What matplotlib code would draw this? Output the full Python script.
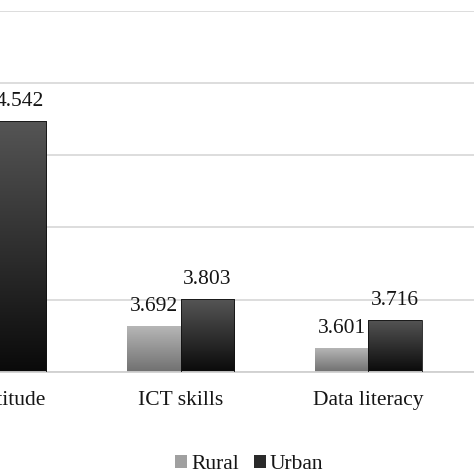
import numpy as np
import matplotlib
matplotlib.use("Agg")
import matplotlib.pyplot as plt
from matplotlib.patches import Patch

# --- data ---
categories = ["ICT attitude", "ICT skills", "Data literacy"]
rural = [4.40, 3.692, 3.601]   # first rural bar is cropped out of the picture (estimate)
urban = [4.542, 3.803, 3.716]
series_names = ["Rural", "Urban"]

plt.rcParams["font.family"] = ["Liberation Serif", "DejaVu Serif"]
FS = 15.5
TXT = "#151515"

fig = plt.figure(figsize=(4.74, 4.74), dpi=100)
# plot area is cropped on the left side in the reference
ax = fig.add_axes([-0.2128, 0.2152, 1.2276, 0.7622])

x = np.arange(len(categories))
w = 0.285

def gradient_bars(bars, top_col, bot_col):
    grad = np.linspace(0, 1, 256).reshape(-1, 1)
    c_top = np.array(matplotlib.colors.to_rgb(top_col))
    c_bot = np.array(matplotlib.colors.to_rgb(bot_col))
    img = c_top[None, None, :] * (1 - grad[:, :, None]) + c_bot[None, None, :] * grad[:, :, None]
    for b in bars:
        x0, y0 = b.get_x(), b.get_y()
        x1, y1 = x0 + b.get_width(), y0 + b.get_height()
        im = ax.imshow(img, extent=[x0, x1, y0, y1], aspect="auto", zorder=2,
                       interpolation="bilinear", origin="upper")
        im.set_clip_path(b)
        b.set_facecolor("none")

bars_r = ax.bar(x - w / 2, np.array(rural) - 3.5, w, bottom=3.5, color="#999999",
                edgecolor="none", zorder=2)
bars_u = ax.bar(x + w / 2, np.array(urban) - 3.5, w, bottom=3.5, color="#333333",
                edgecolor="#111111", linewidth=0.6, zorder=3)

gradient_bars(bars_r, "#b8b8b8", "#707070")
gradient_bars(bars_u, "#555555", "#0a0a0a")

for xi, v in zip(x - w / 2, rural):
    ax.annotate(f"{v:.3f}", (xi, v), xytext=(0, 14), textcoords="offset points",
                ha="center", va="center", fontsize=FS, color=TXT)
for xi, v in zip(x + w / 2, urban):
    ax.annotate(f"{v:.3f}", (xi, v), xytext=(0, 14), textcoords="offset points",
                ha="center", va="center", fontsize=FS, color=TXT)

ax.set_ylim(3.5, 5.0)
ax.set_xlim(-0.5, 2.6)
ax.set_yticks(np.arange(3.5, 5.01, 0.3))
ax.yaxis.grid(True, color="#dadada", linewidth=1.3)
ax.set_axisbelow(True)
ax.tick_params(axis="y", left=False, labelleft=False)
ax.tick_params(axis="x", bottom=False, pad=10)
ax.set_xticks(x)
ax.set_xticklabels(categories, fontsize=FS, color=TXT)
for s in ["top", "right", "left"]:
    ax.spines[s].set_visible(False)
ax.spines["bottom"].set_color("#d0d0d0")
ax.spines["bottom"].set_linewidth(1.3)

handles = [Patch(facecolor="#a0a0a0", edgecolor="none"),
           Patch(facecolor="#2a2a2a", edgecolor="none")]
fig.legend(handles, series_names, loc="center", bbox_to_anchor=(0.526, 0.02), ncol=2,
           frameon=False, fontsize=FS, handlelength=0.55, handleheight=0.55,
           handletextpad=0.18, columnspacing=0.7, labelcolor=TXT)

fig.savefig("out.png", dpi=100)
